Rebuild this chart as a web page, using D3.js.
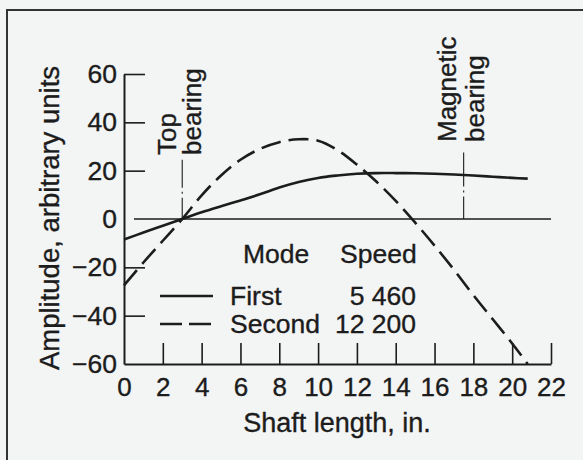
<!DOCTYPE html>
<html>
<head>
<meta charset="utf-8">
<script src="https://cdn.jsdelivr.net/npm/d3@7"></script>
<style>
  html, body { margin: 0; padding: 0; background: #f3f4f4; }
  svg { display: block; }
  text { font-family: "Liberation Sans", Arial, Helvetica, sans-serif; fill: #1c1c1c; stroke: #1c1c1c; stroke-width: 0.35px; }
</style>
</head>
<body>
<svg id="chart" width="583" height="460"></svg>
<script>
// ---- data ----
const shaftX      = [0, 1, 2, 3, 4, 5, 6, 7, 8, 9, 10, 11, 12, 13, 14, 15, 16, 17, 18, 19, 20, 20.8];
const firstMode   = [-8.5, -5.6, -2.8, 0, 2.8, 5.3, 7.7, 10.2, 13, 15.3, 17, 18, 18.7, 19, 19, 18.9, 18.7, 18.4, 18, 17.5, 17, 16.7];
const secondShaftX = [0, 1, 2, 3, 4, 5, 6, 7, 8, 9, 10, 11, 12, 13, 14, 15, 16, 17, 18, 19, 20, 20.8];
const secondMode  = [-27.5, -18, -9, 0, 9.8, 18, 24.5, 29, 31.8, 33, 32.4, 28.5, 22.5, 15.5, 7.5, -1.5, -11, -21, -31.5, -41.5, -51.5, -60];
const xTicks      = [0, 2, 4, 6, 8, 10, 12, 14, 16, 18, 20, 22];
const yTicks      = [60, 40, 20, 0, -20, -40, -60];
const bearingNames = [["Top", "bearing"], ["Magnetic", "bearing"]];
const bearingX    = [3, 17.5];
const bearingTop  = [24.5, 27.5];
const legendModes = ["First", "Second"];
const legendSpeeds = ["5 460", "12 200"];
const xTitle = "Shaft length, in.";
const yTitle = "Amplitude, arbitrary units";

// ---- drawing ----
const svg = d3.select("#chart");
const ink = "#1c1c1c";

// outer frame (extends past the right/bottom edges)
svg.append("rect").attr("x", 7).attr("y", 10).attr("width", 620).attr("height", 500)
  .attr("fill", "none").attr("stroke", "#333").attr("stroke-width", 2);

const x = d3.scaleLinear().domain([0, 22]).range([124, 551]);
const y = d3.scaleLinear().domain([-60, 60]).range([364, 74]);

// y axis
const yAxis = svg.append("g").attr("transform", `translate(${x(0)},0)`)
  .call(d3.axisLeft(y).tickValues(yTicks).tickSizeInner(-21).tickSizeOuter(0).tickPadding(7));
yAxis.select(".domain").attr("stroke", ink).attr("stroke-width", 2);
yAxis.selectAll(".tick line").attr("stroke", ink).attr("stroke-width", 1.6)
  .attr("display", d => (d === 0 || d === -60) ? "none" : null);
yAxis.selectAll(".tick text").attr("font-size", 26.5).attr("fill", ink)
  .attr("font-family", "Liberation Sans, Arial, sans-serif");

// x axis
const xAxis = svg.append("g").attr("transform", `translate(0,${y(-60)})`)
  .call(d3.axisBottom(x).tickValues(xTicks).tickSizeInner(-21).tickSizeOuter(0).tickPadding(14));
xAxis.select(".domain").attr("stroke", ink).attr("stroke-width", 2);
xAxis.selectAll(".tick line").attr("stroke", ink).attr("stroke-width", 1.6)
  .attr("display", d => d === 0 ? "none" : null);
xAxis.selectAll(".tick text").attr("font-size", 26).attr("fill", ink)
  .attr("font-family", "Liberation Sans, Arial, sans-serif");

// zero line
svg.append("line").attr("x1", x(0) + 10).attr("x2", x(22)).attr("y1", y(0)).attr("y2", y(0))
  .attr("stroke", ink).attr("stroke-width", 1.3);

// bearing lines and labels
bearingX.forEach((bx, i) => {
  svg.append("line").attr("x1", x(bx)).attr("x2", x(bx)).attr("y1", y(bearingTop[i])).attr("y2", y(0))
    .attr("stroke", ink).attr("stroke-width", 1.1).attr("stroke-dasharray", i === 0 ? "28,4,2,4,200" : "34,4,2,4,200");
});
const bearingLabelPos = [
  { x: [176, 201], y: 155 },
  { x: [456, 484], y: 142 }
];
bearingNames.forEach((lines, i) => {
  lines.forEach((t, j) => {
    svg.append("text")
      .attr("transform", `translate(${bearingLabelPos[i].x[j]},${bearingLabelPos[i].y}) rotate(-90)`)
      .attr("font-size", 26).attr("text-anchor", "start").text(t);
  });
});

// curves
const line = d3.line().x(d => x(d[0])).y(d => y(d[1])).curve(d3.curveCatmullRom.alpha(0.5));
svg.append("path").datum(shaftX.map((v, i) => [v, firstMode[i]]))
  .attr("d", line).attr("fill", "none").attr("stroke", ink).attr("stroke-width", 2.6);
svg.append("path").datum(secondShaftX.map((v, i) => [v, secondMode[i]]))
  .attr("d", line).attr("fill", "none").attr("stroke", ink).attr("stroke-width", 2.6)
  .attr("stroke-dasharray", "20,8");

// legend
svg.append("text").attr("x", 243).attr("y", 263).attr("font-size", 26.5).text("Mode");
svg.append("text").attr("x", 340).attr("y", 263).attr("font-size", 26.5).text("Speed");
const rowY = [296, 324];
const baseY = [305, 333];
legendModes.forEach((m, i) => {
  svg.append("line").attr("x1", 160).attr("x2", 213).attr("y1", rowY[i]).attr("y2", rowY[i])
    .attr("stroke", ink).attr("stroke-width", 2.4)
    .attr("stroke-dasharray", i === 1 ? "22,7" : null);
  svg.append("text").attr("x", 230).attr("y", baseY[i]).attr("font-size", 26.5).text(m);
  svg.append("text").attr("x", 416).attr("y", baseY[i]).attr("font-size", 26.5)
    .attr("text-anchor", "end").text(legendSpeeds[i]);
});

// axis titles
svg.append("text").attr("x", 337).attr("y", 432).attr("font-size", 27)
  .attr("text-anchor", "middle").text(xTitle);
svg.append("text").attr("transform", `translate(59,218) rotate(-90)`).attr("font-size", 27.5)
  .attr("text-anchor", "middle").text(yTitle);
</script>
</body>
</html>
